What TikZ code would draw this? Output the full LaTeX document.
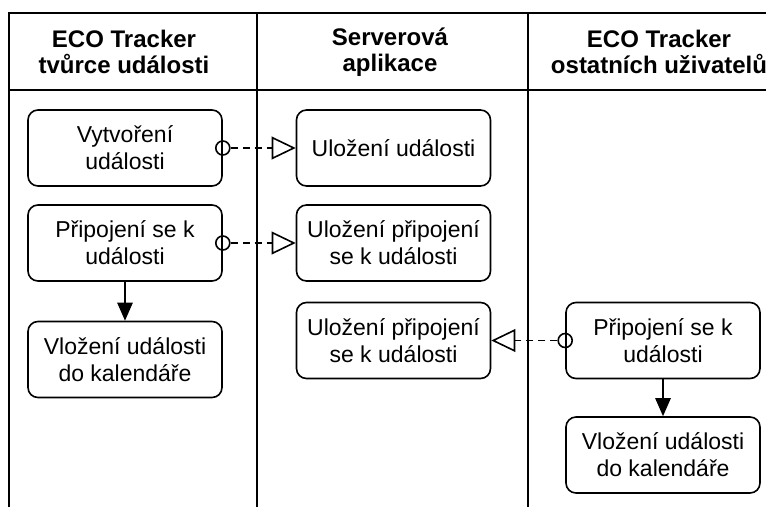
\documentclass[tikz,border=0pt]{standalone}
\usepackage{fontspec}
\setmainfont{Liberation Sans}
\usetikzlibrary{arrows.meta}
\begin{document}
\begin{tikzpicture}[x=0.75pt,y=-0.75pt,
  lane/.style={line width=1.5pt},
  box/.style={draw, line width=1.2pt, rounded corners=7.5pt, minimum width=145.5pt, minimum height=57pt, align=center, inner sep=0pt, font=\fontsize{17.25}{20.25}\selectfont},
  hdr/.style={align=center, inner sep=0pt, font=\fontsize{18}{19.5}\selectfont\bfseries},
  msg/.style={line width=1.2pt, dash pattern=on 5.25pt off 3.75pt, -{Triangle[open, length=18pt, width=17pt]}},
  flow/.style={line width=1.2pt, -{Triangle[length=13.5pt, width=11.5pt]}},
  port/.style={circle, draw, line width=1.2pt, minimum size=10.5pt, inner sep=0pt}
]
\useasboundingbox (0,0) rectangle (766,507);
\fill[white] (0,0) rectangle (766,507);

% lanes
\draw[lane] (9,507) -- (9,13) -- (766,13);
\draw[lane] (9,90) -- (766,90);
\draw[lane] (257,13) -- (257,507);
\draw[lane] (528,13) -- (528,507);

% headers
\node[hdr] (h1) at (124,52) {ECO Tracker\\tvůrce události};
\node[hdr] (h2) at (390,52) {Serverová\\aplikace};
\node[hdr] (h3) at (659,52) {ECO Tracker\\ostatních uživatelů};

% boxes
\node[box] (b1) at (125,148) {Vytvoření\\události};
\node[box] (b2) at (125,243) {Připojení se k\\události};
\node[box] (b3) at (125,359.5) {Vložení události\\do kalendáře};
\node[box] (b4) at (393.5,148) {Uložení události};
\node[box] (b5) at (393.5,243) {Uložení připojení\\se k události};
\node[box] (b6) at (393.5,340.5) {Uložení připojení\\se k události};
\node[box] (b7) at (663,340.5) {Připojení se k\\události};
\node[box] (b8) at (663,455) {Vložení události\\do kalendáře};

% message flows
\node[port] (p1) at (b1.east) {};
\node[port] (p2) at (b2.east) {};
\node[port] (p3) at (b7.west) {};
\draw[msg] (p1.east) -- (b4.west);
\draw[msg] (p2.east) -- (b5.west);
\draw[msg] (p3.west) -- (b6.east);

% sequence flows
\draw[flow] (b2.south) -- (b3.north);
\draw[flow] (b7.south) -- (b8.north);
\end{tikzpicture}
\end{document}
